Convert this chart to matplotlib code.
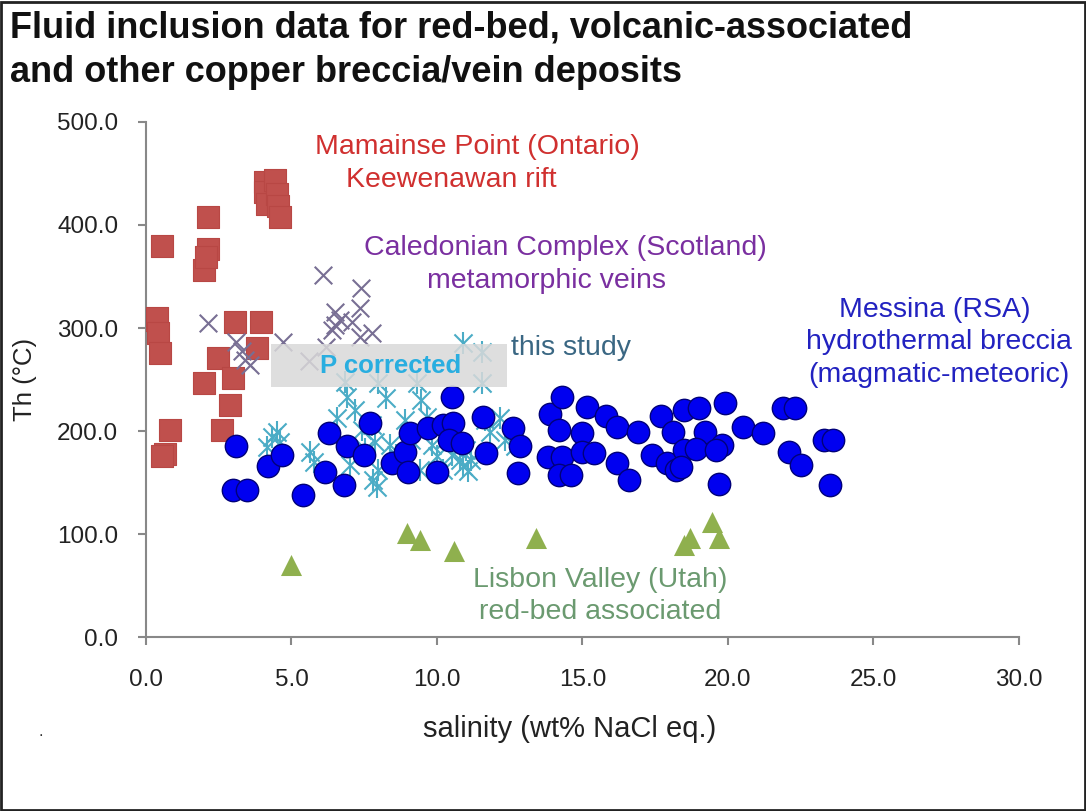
import matplotlib
matplotlib.use("Agg")
import matplotlib.pyplot as plt
from matplotlib.patches import Rectangle
from matplotlib.ticker import FormatStrFormatter

SANS = ['Liberation Sans', 'DejaVu Sans']
plt.rcParams['font.family'] = SANS

# ---------------- data ----------------
mamainse_x = [2.13, 0.55, 2.13, 2.0, 2.07, 0.05, 0.38, 0.41, 0.48, 3.06, 3.95, 3.81,
              2.47, 2.99, 1.99, 2.89, 2.61, 0.82, 0.65, 0.55,
              4.09, 4.09, 4.15, 4.43, 4.5, 4.55, 4.6]
mamainse_y = [408, 380, 377, 356, 369, 308, 310, 295, 276, 306, 306, 281,
              271, 251, 247, 225, 201, 201, 178, 176,
              442, 432, 420, 444, 430, 418, 408]

caledonian_x = [6.07, 7.4, 7.35, 6.5, 6.5, 6.67, 6.4, 7.08, 7.77, 7.35, 4.7, 2.13,
                3.1, 3.4, 3.57, 3.3, 6.2, 5.6]
caledonian_y = [351, 339, 319, 316, 303, 308, 298, 306, 295, 291, 286, 305,
                286, 269, 264, 278, 282, 268]

study_x = [4.33, 4.50, 4.60, 4.16, 5.64, 5.77, 6.56, 6.91, 6.84, 7.18, 7.42, 7.53,
           7.77, 7.87, 7.97, 7.80, 7.94, 7.97, 8.25, 8.38, 8.59, 8.73, 8.90, 9.11,
           9.31, 9.45, 9.66, 9.83, 10.0, 10.27, 10.52, 10.79, 10.89, 11.07, 11.17,
           11.0, 10.89, 11.55, 11.55, 11.65, 11.82, 12.16, 12.34, 12.68, 7.0, 9.4, 10.2]
study_y = [194, 199, 189, 184, 180, 170, 213, 233, 248, 220, 201, 183,
           206, 189, 162, 152, 146, 247, 232, 186, 177, 170, 211, 191,
           247, 230, 214, 186, 176, 191, 177, 172, 166, 161, 172,
           182, 285, 277, 247, 211, 199, 213, 191, 185, 167, 162, 162]

messina_x = [3.1, 3.0, 3.47, 4.2, 4.67, 5.4, 6.3, 6.15, 6.8, 6.9, 7.5, 7.7, 8.45, 8.9,
             9.0, 9.07, 9.7, 10.0, 10.2, 10.5, 10.55, 10.4, 10.86, 11.58, 11.7, 12.6,
             12.85, 12.8, 13.9, 14.3, 14.2, 13.8, 14.3, 14.2, 14.6, 15.0, 15.15, 15.8,
             15.0, 15.4, 16.2, 16.2, 16.9, 16.6, 17.7, 18.1, 18.5, 17.4, 17.9, 18.2,
             19.0, 19.9, 19.2, 20.5, 21.2, 21.9, 22.3, 18.5, 18.9, 19.8, 19.6, 18.4,
             22.1, 22.5, 19.7, 23.3, 23.6, 23.5]
messina_y = [185, 143, 143, 166, 177, 138, 198, 160, 148, 185, 177, 208, 169, 180,
             160, 198, 203, 160, 206, 233, 208, 191, 188, 214, 179, 203,
             185, 159, 217, 233, 201, 175, 175, 157, 157, 198, 223, 215,
             180, 179, 204, 169, 199, 152, 215, 199, 220, 177, 169, 162,
             222, 227, 199, 204, 198, 222, 222, 182, 183, 186, 182, 165,
             180, 167, 149, 191, 191, 148]

lisbon_x = [5.0, 8.97, 9.4, 10.6, 13.4, 18.5, 18.7, 19.45, 19.7]
lisbon_y = [70, 101, 94, 84, 96, 89, 96, 112, 96]

x_ticks = [0, 5, 10, 15, 20, 25, 30]
y_ticks = [0, 100, 200, 300, 400, 500]

# ---------------- figure ----------------
fig = plt.figure(figsize=(10.86, 8.11), dpi=100)
ax = fig.add_axes([0.1344, 0.2145, 0.8039, 0.6351])
ax.set_xlim(0, 30)
ax.set_ylim(0, 500)

ax.scatter(mamainse_x, mamainse_y, marker='s', s=230, c='#c0504d',
           edgecolors='#b84744', linewidths=0.8, zorder=3)
ax.scatter(caledonian_x, caledonian_y, marker='x', s=160, c='#786f94',
           linewidths=1.5, zorder=3)
ax.scatter(study_x, study_y, marker='x', s=170, c='#4bacc6', linewidths=1.5, zorder=3)
ax.scatter(study_x, study_y, marker='|', s=230, c='#4bacc6', linewidths=1.5, zorder=3)
ax.scatter(messina_x, messina_y, marker='o', s=260, c='#0000f0',
           edgecolors='#00007a', linewidths=1.0, zorder=4)
ax.scatter(lisbon_x, lisbon_y, marker='^', s=230, c='#8fb04e', linewidths=0, zorder=3)

# grey "P corrected" box
ax.add_patch(Rectangle((4.3, 243), 8.1, 41, facecolor='#d9d9d9', edgecolor='none',
                       alpha=0.85, zorder=5))
ax.text(8.4, 263, 'P corrected', color='#29aee0', fontsize=18.5, fontweight='bold',
        ha='center', va='center', zorder=6)

# annotations
lab = dict(fontsize=20.5, ha='center', va='center', zorder=6)
ax.text(11.4, 476, 'Mamainse Point (Ontario)', color='#d0302f', **lab)
ax.text(10.5, 444, 'Keewenawan rift', color='#d0302f', **lab)
ax.text(14.4, 378, 'Caledonian Complex (Scotland)', color='#7a2fa0', **lab)
ax.text(13.75, 346, 'metamorphic veins', color='#7a2fa0', **lab)
ax.text(12.55, 281, 'this study', color='#3a6783', fontsize=20.5,
        ha='left', va='center', zorder=6)
ax.text(27.1, 317, 'Messina (RSA)', color='#2222c0', **lab)
ax.text(27.25, 286, 'hydrothermal breccia', color='#2222c0', **lab)
ax.text(27.25, 254, '(magmatic-meteoric)', color='#2222c0', **lab)
ax.text(15.6, 55, 'Lisbon Valley (Utah)', color='#6b9a70', **lab)
ax.text(15.6, 24, 'red-bed associated', color='#6b9a70', **lab)

# axes styling
for side in ('top', 'right'):
    ax.spines[side].set_visible(False)
for side in ('left', 'bottom'):
    ax.spines[side].set_color('#888888')
    ax.spines[side].set_linewidth(1.5)
ax.set_xticks(x_ticks)
ax.set_yticks(y_ticks)
ax.xaxis.set_major_formatter(FormatStrFormatter('%.1f'))
ax.yaxis.set_major_formatter(FormatStrFormatter('%.1f'))
ax.tick_params(axis='both', direction='out', length=6, width=1.5, color='#888888',
               labelsize=17.5, labelcolor='#222222')
ax.tick_params(axis='x', pad=17)
ax.tick_params(axis='y', pad=14)

ax.set_xlabel('salinity (wt% NaCl eq.)', fontsize=21, color='#222222')
ax.xaxis.set_label_coords(0.485, -0.152)
ax.set_ylabel('Th (°C)', fontsize=18.5, color='#222222')
ax.yaxis.set_label_coords(-0.125, 0.5)

fig.text(0.009, 0.966, 'Fluid inclusion data for red-bed, volcanic-associated',
         fontsize=26, fontweight='bold', ha='left', va='center', color='#111111')
fig.text(0.009, 0.911, 'and other copper breccia/vein deposits',
         fontsize=26, fontweight='bold', ha='left', va='center', color='#111111')
fig.text(0.035, 0.093, '.', fontsize=12, color='#333333')

# figure frame
fig.add_artist(Rectangle((0.001, 0.001), 0.998, 0.997, transform=fig.transFigure,
                         fill=False, edgecolor='#222222', linewidth=2))

fig.savefig('out.png', dpi=100)
